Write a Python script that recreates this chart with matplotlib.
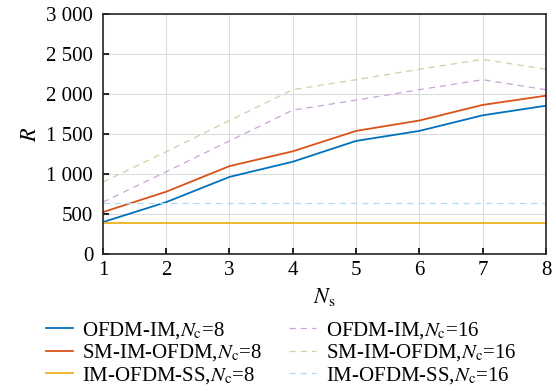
import numpy as np
import matplotlib
matplotlib.use("Agg")
import matplotlib.pyplot as plt
from matplotlib.ticker import FuncFormatter

plt.rcParams["font.family"] = ["Liberation Serif", "DejaVu Serif"]
plt.rcParams["mathtext.fontset"] = "stix"

# Data
ns = [1, 2, 3, 4, 5, 6, 7, 8]

ofdm_im_8 = [400, 650, 965, 1155, 1415, 1540, 1735, 1855]
sm_im_ofdm_8 = [525, 780, 1100, 1285, 1540, 1670, 1865, 1980]
im_ofdm_ss_8 = [390, 390, 390, 390, 390, 390, 390, 390]

ofdm_im_16 = [650, 1030, 1415, 1800, 1925, 2055, 2180, 2055]
sm_im_ofdm_16 = [900, 1280, 1670, 2055, 2180, 2310, 2435, 2310]
im_ofdm_ss_16 = [640, 640, 640, 640, 640, 640, 640, 640]

FS = 15

fig = plt.figure(figsize=(5.56, 3.91), dpi=100)
ax = fig.add_axes([0.185, 0.350, 0.797, 0.614])

dash = (0, (5, 4))
ax.plot(ns, ofdm_im_8, color="#0072BD", lw=1.3, label=r"OFDM-IM,$N_\mathrm{c}$=8")
ax.plot(ns, sm_im_ofdm_8, color="#D95319", lw=1.3, label=r"SM-IM-OFDM,$N_\mathrm{c}$=8")
ax.plot(ns, im_ofdm_ss_8, color="#EDB120", lw=1.3, label=r"IM-OFDM-SS,$N_\mathrm{c}$=8")
ax.plot(ns, ofdm_im_16, color="#C9A5D6", lw=0.9, ls=dash, label=r"OFDM-IM,$N_\mathrm{c}$=16")
ax.plot(ns, sm_im_ofdm_16, color="#BFD8A8", lw=0.9, ls=dash, label=r"SM-IM-OFDM,$N_\mathrm{c}$=16")
ax.plot(ns, im_ofdm_ss_16, color="#A8DDF5", lw=0.9, ls=dash, label=r"IM-OFDM-SS,$N_\mathrm{c}$=16")

ax.set_xlim(1, 8)
ax.set_ylim(0, 3000)
ax.set_xticks(ns)
ax.set_yticks(np.arange(0, 3001, 500))
ax.yaxis.set_major_formatter(FuncFormatter(lambda v, p: f"{v:,.0f}".replace(",", " ")))

ax.grid(True, color="#DCDCDC", lw=0.8)
ax.set_axisbelow(True)
ax.tick_params(direction="in", labelsize=FS, length=4, width=1.2)
ax.tick_params(axis="y", pad=7)
ax.tick_params(axis="x", pad=5)
for s in ax.spines.values():
    s.set_linewidth(1.2)
    s.set_color("#262626")

ax.set_xlabel(r"$N_\mathrm{s}$", fontsize=FS + 1, labelpad=4)
ax.set_ylabel(r"$R$", fontsize=FS + 1, labelpad=4)

fig.legend(loc="upper left", bbox_to_anchor=(46 / 556, 0.182), ncol=2, frameon=False,
           fontsize=FS, handlelength=1.3, handletextpad=0.45, columnspacing=1.3,
           labelspacing=0.08, borderaxespad=0, borderpad=0)

fig.savefig("out.png", dpi=100)
